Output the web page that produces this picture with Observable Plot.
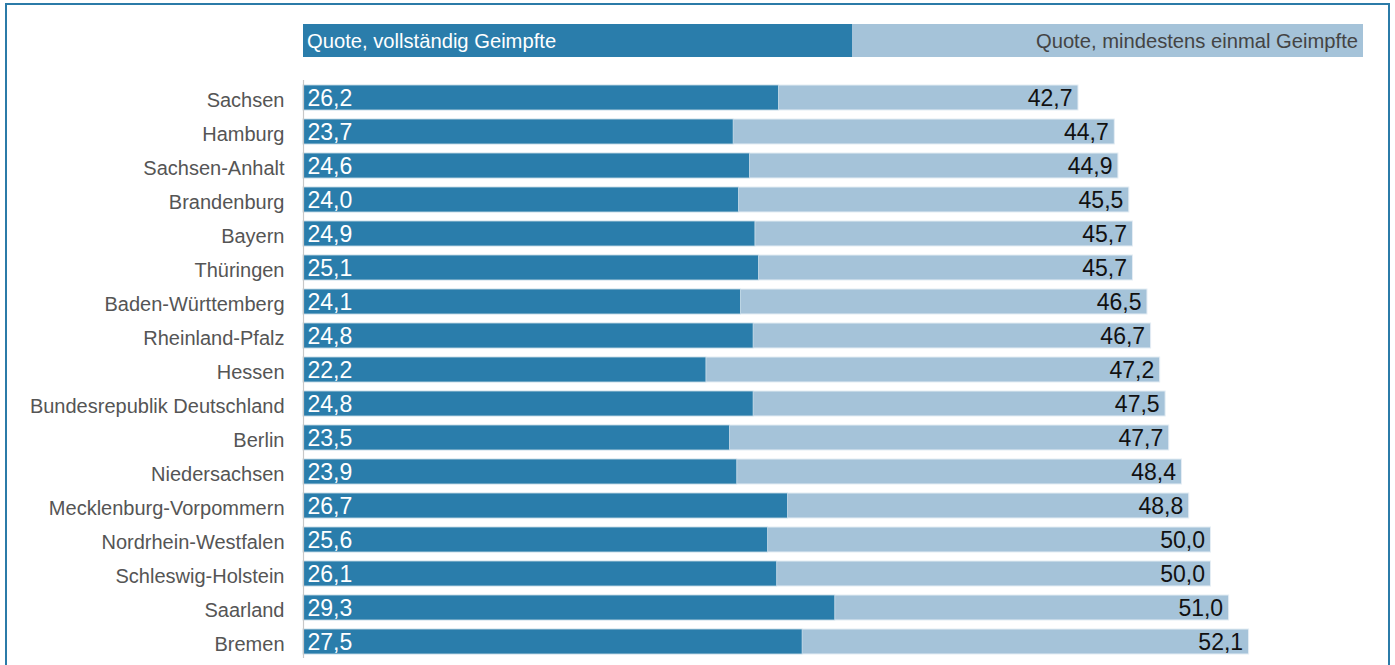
<!DOCTYPE html>
<html>
<head>
<meta charset="utf-8">
<script src="https://cdn.jsdelivr.net/npm/d3@7"></script>
<script src="https://cdn.jsdelivr.net/npm/@observablehq/plot@0.6"></script>
<style>
  html, body { margin: 0; padding: 0; background: #fff; overflow: hidden; }
  #wrap { position: relative; width: 1395px; height: 665px; font-family: "Liberation Sans", Arial, sans-serif; }
  #frame { position: absolute; left: 5px; top: 3px; width: 1385px; height: 720px; border: 2px solid #2b7ba8; box-sizing: border-box; }
  #legend { position: absolute; left: 303px; top: 24px; height: 33px; width: 1060px; display: flex; font-size: 20.2px; }
  #legend .a { width: 549px; background: #2a7dab; color: #fff; padding-left: 4px; box-sizing: border-box; line-height: 35px; }
  #legend .b { width: 511px; background: #a5c3d9; color: #444; padding-right: 5px; box-sizing: border-box; text-align: right; line-height: 35px; }
  #chart { position: absolute; left: 0; top: 0; }
</style>
</head>
<body>
<div id="wrap">
  <div id="frame"></div>
  <div id="chart"></div>
  <div id="legend"><div class="a">Quote, vollständig Geimpfte</div><div class="b">Quote, mindestens einmal Geimpfte</div></div>
</div>
<script>
const states = ["Sachsen","Hamburg","Sachsen-Anhalt","Brandenburg","Bayern","Thüringen","Baden-Württemberg","Rheinland-Pfalz","Hessen","Bundesrepublik Deutschland","Berlin","Niedersachsen","Mecklenburg-Vorpommern","Nordrhein-Westfalen","Schleswig-Holstein","Saarland","Bremen"];
const fullyVaccinated = [26.2,23.7,24.6,24.0,24.9,25.1,24.1,24.8,22.2,24.8,23.5,23.9,26.7,25.6,26.1,29.3,27.5];
const atLeastOnce = [42.7,44.7,44.9,45.5,45.7,45.7,46.5,46.7,47.2,47.5,47.7,48.4,48.8,50.0,50.0,51.0,52.1];

const data = states.map((s, i) => ({state: s, full: fullyVaccinated[i], once: atLeastOnce[i]}));
const fmt = v => v.toFixed(1).replace(".", ",");

const chart = Plot.plot({
  width: 1395,
  height: 665,
  marginLeft: 303,
  marginRight: 3,
  marginTop: 80,
  marginBottom: 7,
  style: {fontFamily: "'Liberation Sans', Arial, sans-serif", background: "transparent"},
  x: {domain: [0, 60], axis: null},
  y: {domain: states, paddingInner: 0.265, paddingOuter: 0.1325, label: null},
  marks: [
    Plot.barX(data, {x: "once", y: "state", fill: "#a5c3d9", stroke: "#e4edf4", strokeWidth: 1}),
    Plot.barX(data, {x: "full", y: "state", fill: "#2a7dab", stroke: "#cfe0ec", strokeWidth: 0.8}),
    Plot.ruleX([0], {stroke: "#c8c8c8", strokeWidth: 1.2}),
    Plot.axisY({tickSize: 0, tickPadding: 19, fontSize: 20, color: "#555", label: null, dy: 3}),
    Plot.text(data, {x: 0, y: "state", text: d => fmt(d.full), dx: 4, dy: 0.5, textAnchor: "start", fill: "#fff", fontSize: 23}),
    Plot.text(data, {x: "once", y: "state", text: d => fmt(d.once), dx: -6, dy: 0.5, textAnchor: "end", fill: "#111", fontSize: 23})
  ]
});
document.getElementById("chart").appendChild(chart);
</script>
</body>
</html>
